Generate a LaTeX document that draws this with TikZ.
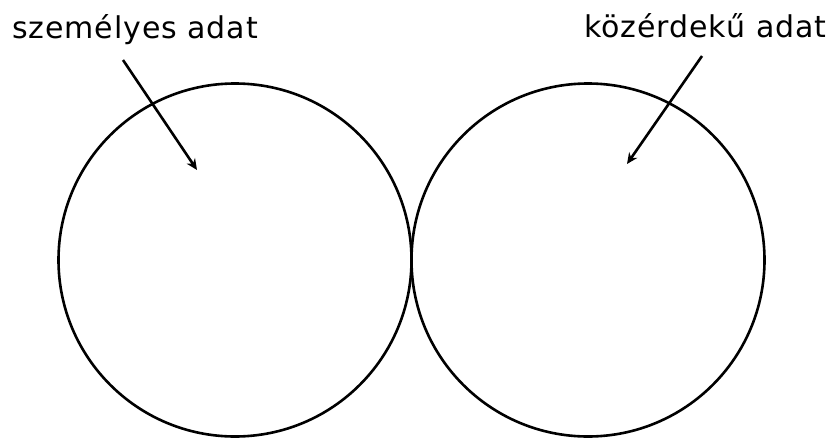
\documentclass[tikz,border=0pt]{standalone}
\usepackage{fontspec}
\setmainfont{DejaVu Sans}[LetterSpace=3]
\usetikzlibrary{arrows.meta, positioning}

\begin{document}
\begin{tikzpicture}[
          x=1pt, y=-1pt,
          set/.style={
              circle,
              draw=black,
              line width=2.6pt,
              inner sep=0pt,
              minimum size=353pt
            },
          label/.style={
              font=\fontsize{30}{34}\selectfont,
              inner sep=0pt,
              anchor=base west
            },
          arr/.style={-{Stealth[length=11pt, width=10pt]}, black, line width=2.6pt}
        ]
        \useasboundingbox (0,0) rectangle (835,439);

        \node[set] (personal) at (235,260) {};
        \node[set] (public) at (588,260) {};

        \node[label] (personaltxt) at (12,38) {személyes adat};
        \node[label] (publictxt) at (584,37) {közérdekű adat};

        \coordinate (personalfrom) at (123,60);
        \coordinate (personalto) at (197,170);
        \coordinate (publicfrom) at (702,56);
        \coordinate (publicto) at (627,164);

        \draw[arr] (personalfrom) -- (personalto);
        \draw[arr] (publicfrom) -- (publicto);
      \end{tikzpicture}
\end{document}
